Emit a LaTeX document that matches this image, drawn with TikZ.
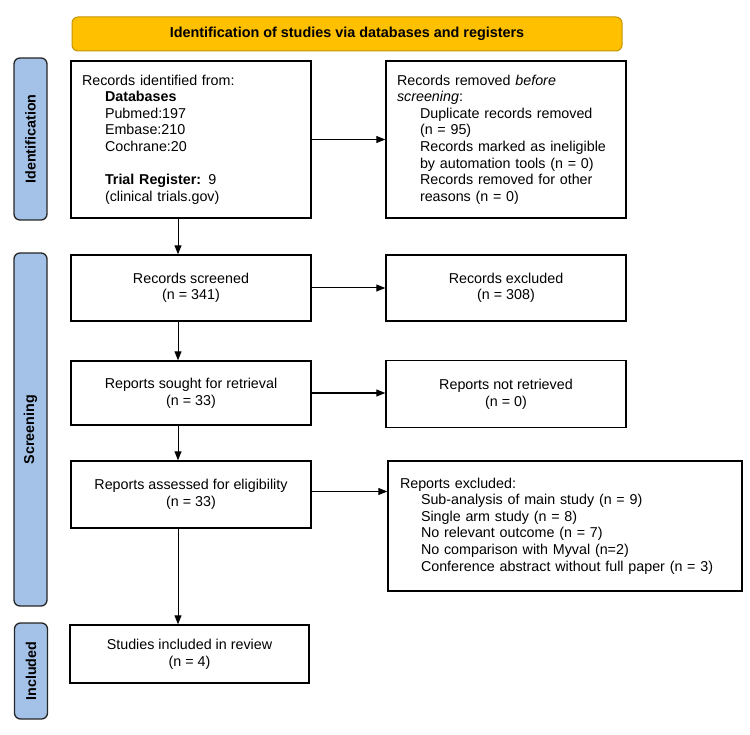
\documentclass[tikz,border=0pt]{standalone}
\usepackage{fontspec}
\setmainfont{Liberation Sans}
\usetikzlibrary{positioning,arrows.meta,calc}

\definecolor{headgold}{HTML}{FFC000}
\definecolor{headedge}{HTML}{C39400}
\definecolor{sideblue}{HTML}{A4C2E8}

\begin{document}
\begin{tikzpicture}[x=1pt,y=-1pt,
  block/.style={draw,line width=1.4pt,minimum width=240pt,align=center,inner sep=0pt,
    font=\fontsize{14.3pt}{16.6pt}\selectfont},
  lblock/.style={block,align=left,text width=218pt},
  side/.style={draw=black!85,line width=1.3pt,rounded corners=6pt,fill=sideblue,rotate=90,
    minimum height=33pt,inner sep=0pt,font=\bfseries\fontsize{14.3pt}{16pt}\selectfont},
  head/.style={draw=headedge,line width=1pt,rounded corners=6pt,fill=headgold,
    minimum width=550pt,minimum height=34pt,font=\bfseries\fontsize{14.4pt}{16pt}\selectfont},
  arr/.style={-{Triangle[length=9pt,width=7pt]},line width=1pt}
]
\useasboundingbox (0,0) rectangle (750,735);

% header and phase labels
\node[head] (title) at (347,34) {Identification of studies via databases and registers};
\node[side,minimum width=162pt] (ident) at (30.5,139) {Identification};
\node[side,minimum width=353pt] (screen) at (30.5,429.5) {Screening};
\node[side,minimum width=96pt] (incl) at (31,671) {Included};

% left column
\node[lblock,minimum height=157pt] (recid) at (191,139.5) {Records identified from:\\
  \hspace*{23pt}\textbf{Databases}\\
  \hspace*{23pt}Pubmed:197\\
  \hspace*{23pt}Embase:210\\
  \hspace*{23pt}Cochrane:20\\[16.6pt]
  \hspace*{23pt}\textbf{Trial Register:} 9\\
  \hspace*{23pt}(clinical trials.gov)};
\node[block,minimum height=66pt] (screened) at (191,288) {Records screened\\(n = 341)};
\node[block,minimum height=64pt] (sought) at (191,393) {Reports sought for retrieval\\(n = 33)};
\node[block,minimum height=67pt] (assessed) at (191,494.5) {Reports assessed for eligibility\\(n = 33)};
\node[block,minimum width=239pt,minimum height=58pt] (included) at (189.5,654) {Studies included in review\\(n = 4)};

% right column
\node[lblock,minimum height=157pt] (removed) at (506,139.5) {Records removed \textit{before}\\
  \textit{screening}:\\
  \hspace*{23pt}Duplicate records removed\\
  \hspace*{23pt}(n = 95)\\
  \hspace*{23pt}Records marked as ineligible\\
  \hspace*{23pt}by automation tools (n = 0)\\
  \hspace*{23pt}Records removed for other\\
  \hspace*{23pt}reasons (n = 0)};
\node[block,minimum height=66pt] (excluded) at (506,288) {Records excluded\\(n = 308)};
\node[block,minimum height=67pt] (notret) at (506,394) {Reports not retrieved\\(n = 0)};
\node[lblock,minimum width=354pt,text width=330pt,minimum height=130pt] (repexcl) at (565,526) {Reports excluded:\\
  \hspace*{21pt}Sub-analysis of main study (n = 9)\\
  \hspace*{21pt}Single arm study (n = 8)\\
  \hspace*{21pt}No relevant outcome (n = 7)\\
  \hspace*{21pt}No comparison with Myval (n=2)\\
  \hspace*{21pt}Conference abstract without full paper (n = 3)};

% arrows
\draw[arr] ([xshift=-13pt]recid.south) -- ([xshift=-13pt]screened.north);
\draw[arr] ([xshift=-13pt]screened.south) -- ([xshift=-13pt]sought.north);
\draw[arr] ([xshift=-13pt]sought.south) -- ([xshift=-13pt]assessed.north);
\draw[arr] ([xshift=-13pt]assessed.south) -- ([xshift=-11.5pt]included.north);
\draw[arr] (recid) -- (removed);
\draw[arr] (screened) -- (excluded);
\draw[arr] (sought.east) -- (sought.east -| notret.west);
\draw[arr] ([yshift=3pt]assessed.east) -- ([yshift=3pt]assessed.east -| repexcl.west);
\end{tikzpicture}
\end{document}
